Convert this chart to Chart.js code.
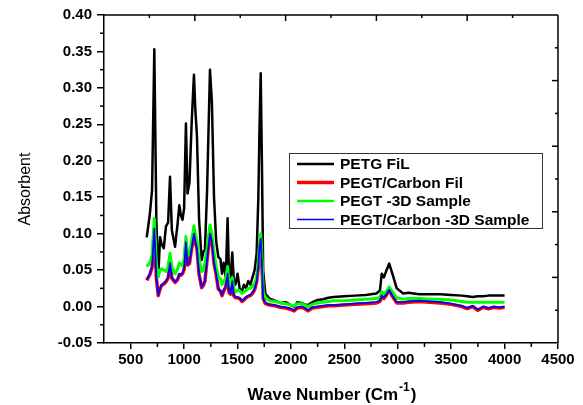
<!DOCTYPE html>
<html>
<head>
<meta charset="utf-8">
<script src="https://cdn.jsdelivr.net/npm/chart.js@4"></script>
<style>
  body { margin: 0; background: #fff; }
  canvas { display: block; }
</style>
</head>
<body>
<canvas id="ftirChart" width="583" height="405"></canvas>
<script>
// wave numbers shared by all four spectra (cm-1)
const waveNumbers = [
  650, 680, 700, 721, 740, 758, 775, 790, 810, 830,
  850, 868, 885, 915, 940, 955, 970, 985, 1000, 1017,
  1032, 1050, 1070, 1092, 1105, 1120, 1140, 1164, 1180, 1195,
  1215, 1242, 1260, 1280, 1300, 1320, 1340, 1355, 1370, 1390,
  1407, 1420, 1435, 1451, 1465, 1480, 1500, 1520, 1540, 1560,
  1580, 1600, 1620, 1640, 1660, 1679, 1695, 1705, 1717, 1728,
  1740, 1760, 1800, 1850, 1900, 1950, 2000, 2030, 2060, 2100,
  2130, 2160, 2200, 2250, 2300, 2350, 2400, 2500, 2600, 2700,
  2800, 2833, 2850, 2870, 2890, 2920, 2950, 2990, 3050, 3100,
  3200, 3300, 3400, 3500, 3600, 3650, 3700, 3750, 3800, 3850,
  3900, 3950, 4000
];

const petgFil = [
  0.095, 0.128, 0.16, 0.353, 0.12, 0.041, 0.095, 0.085, 0.08, 0.11,
  0.115, 0.178, 0.105, 0.082, 0.115, 0.139, 0.125, 0.119, 0.135, 0.251,
  0.155, 0.17, 0.25, 0.318, 0.27, 0.235, 0.12, 0.064, 0.075, 0.078,
  0.16, 0.325, 0.28, 0.15, 0.09, 0.068, 0.065, 0.045, 0.06, 0.04,
  0.121, 0.045, 0.04, 0.074, 0.035, 0.03, 0.045, 0.025, 0.02, 0.03,
  0.025, 0.035, 0.03, 0.04, 0.05, 0.073, 0.15, 0.24, 0.32, 0.2,
  0.05, 0.018, 0.011, 0.008, 0.005, 0.006, 0.002, 0.0, 0.006, 0.005,
  0.003, 0.002, 0.006, 0.009, 0.01, 0.012, 0.013, 0.014, 0.015, 0.016,
  0.018, 0.022, 0.045, 0.04, 0.048, 0.059, 0.045, 0.025, 0.018, 0.019,
  0.017, 0.017, 0.017, 0.016, 0.015, 0.014, 0.013, 0.014, 0.014, 0.015,
  0.015, 0.015, 0.015
];

const carbonFil = [
  0.036, 0.044, 0.054, 0.106, 0.039, 0.015, 0.024, 0.029, 0.031, 0.034,
  0.039, 0.058, 0.039, 0.033, 0.037, 0.044, 0.043, 0.045, 0.051, 0.087,
  0.057, 0.059, 0.079, 0.099, 0.089, 0.079, 0.044, 0.026, 0.029, 0.035,
  0.064, 0.099, 0.089, 0.059, 0.044, 0.024, 0.021, 0.015, 0.021, 0.027,
  0.044, 0.019, 0.017, 0.034, 0.015, 0.012, 0.012, 0.011, 0.007, 0.009,
  0.012, 0.014, 0.015, 0.018, 0.023, 0.034, 0.054, 0.079, 0.092, 0.059,
  0.011, 0.004, 0.002, 0.001, -0.001, -0.002, -0.004, -0.006, -0.002, -0.001,
  -0.003, -0.006, -0.002, -0.001, 0.0, 0.001, 0.001, 0.002, 0.003, 0.004,
  0.005, 0.007, 0.014, 0.011, 0.015, 0.022, 0.014, 0.005, 0.005, 0.006,
  0.007, 0.006, 0.005, 0.003, 0.0, -0.003, 0.0, -0.005, -0.001, -0.003,
  -0.001, -0.002, -0.001
];

const petg3d = [
  0.055, 0.06, 0.07, 0.121, 0.06, 0.041, 0.05, 0.052, 0.05, 0.048,
  0.055, 0.073, 0.055, 0.045, 0.052, 0.06, 0.058, 0.056, 0.065, 0.096,
  0.07, 0.072, 0.09, 0.111, 0.1, 0.09, 0.065, 0.048, 0.05, 0.06,
  0.08, 0.112, 0.1, 0.075, 0.055, 0.04, 0.038, 0.03, 0.035, 0.038,
  0.055, 0.032, 0.028, 0.04, 0.025, 0.02, 0.022, 0.022, 0.018, 0.02,
  0.022, 0.025, 0.025, 0.028, 0.032, 0.04, 0.06, 0.085, 0.1, 0.07,
  0.02, 0.012, 0.008, 0.007, 0.005, 0.004, 0.002, 0.001, 0.004, 0.004,
  0.002, 0.0, 0.003, 0.005, 0.006, 0.007, 0.008, 0.008, 0.009, 0.01,
  0.011, 0.013, 0.02, 0.017, 0.02, 0.027, 0.02, 0.012, 0.01, 0.011,
  0.011, 0.01, 0.01, 0.009, 0.007, 0.006, 0.006, 0.006, 0.006, 0.006,
  0.006, 0.006, 0.006
];

const carbon3d = [
  0.037, 0.045, 0.055, 0.107, 0.04, 0.016, 0.025, 0.03, 0.032, 0.035,
  0.04, 0.06, 0.04, 0.034, 0.038, 0.045, 0.044, 0.046, 0.052, 0.088,
  0.058, 0.06, 0.08, 0.1, 0.09, 0.08, 0.045, 0.027, 0.03, 0.036,
  0.065, 0.1, 0.09, 0.06, 0.045, 0.025, 0.022, 0.016, 0.022, 0.028,
  0.045, 0.02, 0.018, 0.035, 0.016, 0.013, 0.013, 0.012, 0.008, 0.01,
  0.013, 0.015, 0.016, 0.019, 0.024, 0.035, 0.055, 0.08, 0.093, 0.06,
  0.012, 0.005, 0.003, 0.002, 0.0, -0.001, -0.003, -0.005, -0.001, 0.0,
  -0.002, -0.005, -0.001, 0.0, 0.001, 0.002, 0.002, 0.003, 0.004, 0.005,
  0.006, 0.008, 0.015, 0.012, 0.016, 0.023, 0.015, 0.006, 0.006, 0.007,
  0.008, 0.007, 0.006, 0.004, 0.001, -0.002, 0.001, -0.004, 0.0, -0.002,
  0.0, -0.001, 0.0
];

const seriesLabels = ['PETG FiL', 'PEGT/Carbon Fil', 'PEGT -3D Sample', 'PEGT/Carbon -3D Sample'];
const xTickValues = [500, 1000, 1500, 2000, 2500, 3000, 3500, 4000, 4500];
const xMinorValues = [750, 1250, 1750, 2250, 2750, 3250, 3750, 4250];
const yMinorValues = [-0.025, 0.025, 0.075, 0.125, 0.175, 0.225, 0.275, 0.325, 0.375];

const FONT = "'Liberation Sans', Arial, sans-serif";

function toPoints(values) {
  return values.map((v, i) => ({ x: waveNumbers[i], y: v }));
}

function line(ctx, x1, y1, x2, y2) {
  ctx.beginPath();
  ctx.moveTo(x1, y1);
  ctx.lineTo(x2, y2);
  ctx.stroke();
}

// extra frame: top/right axes, minor ticks, legend box and axis titles
const framePlugin = {
  id: 'frame',
  afterDraw(chart) {
    const { ctx, chartArea: a, scales: { x, y } } = chart;
    ctx.save();
    ctx.strokeStyle = '#000';
    ctx.lineWidth = 1.5;
    line(ctx, a.left, a.top, a.right, a.top);
    line(ctx, a.right, a.top, a.right, a.bottom);

    // minor ticks, outward
    yMinorValues.forEach(v => {
      const py = y.getPixelForValue(v);
      line(ctx, a.left - 4, py, a.left, py);
    });
    xMinorValues.forEach(v => {
      const px = x.getPixelForValue(v);
      line(ctx, px, a.bottom, px, a.bottom + 4);
    });

    // top & right axes have their own tenth ticks, pointing inward
    const w = a.right - a.left, h = a.bottom - a.top;
    for (let k = 1; k < 10; k++) {
      const len = k % 2 === 0 ? 6 : 3;
      const px = a.left + w * k / 10;
      line(ctx, px, a.top, px, a.top + len);
      const py = a.bottom - h * k / 10;
      line(ctx, a.right - len, py, a.right, py);
    }

    // legend
    ctx.lineWidth = 1;
    ctx.strokeStyle = '#333';
    ctx.strokeRect(289.5, 153.5, 253, 75);
    ctx.font = 'bold 15.5px ' + FONT;
    ctx.fillStyle = '#000';
    ctx.textBaseline = 'middle';
    ctx.textAlign = 'left';
    chart.data.datasets.forEach((ds, i) => {
      const ly = 164 + i * 18.5;
      ctx.strokeStyle = ds.borderColor;
      ctx.lineWidth = ds.legendWidth;
      line(ctx, 297, ly, 334, ly);
      ctx.fillText(ds.label, 340, ly + 1);
    });

    // y title
    ctx.save();
    ctx.translate(30, 189);
    ctx.rotate(-Math.PI / 2);
    ctx.font = '16px ' + FONT;
    ctx.textAlign = 'center';
    ctx.textBaseline = 'alphabetic';
    ctx.fillText('Absorbent', 0, 0);
    ctx.restore();

    // x title with superscript
    ctx.textBaseline = 'alphabetic';
    const main = 'Wave Number (Cm';
    ctx.font = 'bold 17px ' + FONT;
    const w1 = ctx.measureText(main).width;
    const w3 = ctx.measureText(')').width;
    ctx.font = 'bold 12px ' + FONT;
    const w2 = ctx.measureText('-1').width;
    let sx = (a.left + a.right) / 2 - (w1 + w2 + w3) / 2;
    ctx.font = 'bold 17px ' + FONT;
    ctx.fillText(main, sx, 400);
    ctx.font = 'bold 12px ' + FONT;
    ctx.fillText('-1', sx + w1 + 1, 391);
    ctx.font = 'bold 17px ' + FONT;
    ctx.fillText(')', sx + w1 + w2 + 2, 400);
    ctx.restore();
  }
};

const ctx = document.getElementById('ftirChart').getContext('2d');
const ftirChart = new Chart(ctx, {
  type: 'line',
  data: {
    datasets: [
      { label: seriesLabels[0], data: toPoints(petgFil), borderColor: '#000000', borderWidth: 2.5, legendWidth: 2.5, order: 4 },
      { label: seriesLabels[1], data: toPoints(carbonFil), borderColor: '#ff0000', borderWidth: 3.5, legendWidth: 3.5, order: 3 },
      { label: seriesLabels[2], data: toPoints(petg3d), borderColor: '#00ff00', borderWidth: 3, legendWidth: 2.5, order: 2 },
      { label: seriesLabels[3], data: toPoints(carbon3d), borderColor: '#0000ff', borderWidth: 1.8, legendWidth: 1.5, order: 1 }
    ]
  },
  options: {
    responsive: false,
    animation: false,
    elements: {
      point: { radius: 0 },
      line: { tension: 0, borderJoinStyle: 'round' }
    },
    layout: { padding: { top: 15, right: 25, left: 0, bottom: 0 } },
    plugins: {
      legend: { display: false },
      tooltip: { enabled: false }
    },
    scales: {
      x: {
        type: 'linear',
        min: 250,
        max: 4500,
        afterBuildTicks: scale => { scale.ticks = xTickValues.map(v => ({ value: v })); },
        afterFit: scale => { scale.height = 62; },
        grid: { drawOnChartArea: false, color: '#000', lineWidth: 1.5, tickLength: 6 },
        border: { color: '#000', width: 1.5 },
        ticks: {
          color: '#000',
          padding: 2,
          maxRotation: 0,
          autoSkip: false,
          font: { family: FONT, size: 15, weight: 'bold' },
          callback: v => String(v)
        }
      },
      y: {
        min: -0.05,
        max: 0.40,
        afterFit: scale => { scale.width = 104; },
        grid: { drawOnChartArea: false, color: '#000', lineWidth: 1.5, tickLength: 7 },
        border: { color: '#000', width: 1.5 },
        ticks: {
          stepSize: 0.05,
          color: '#000',
          padding: 5,
          font: { family: FONT, size: 15, weight: 'bold' },
          callback: v => (Math.abs(v) < 1e-9 ? 0 : v).toFixed(2)
        }
      }
    }
  },
  plugins: [framePlugin]
});
</script>
</body>
</html>
